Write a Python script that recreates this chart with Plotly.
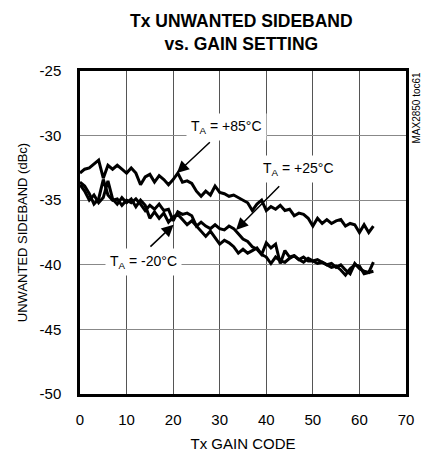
import plotly.graph_objects as go

gain_code = list(range(64))

t_plus85 = [-32.9, -32.6, -32.5, -32.2, -31.9, -33.3, -32.3, -32.6, -32.3, -32.6,
            -32.9, -32.5, -32.9, -33.8, -33.2, -33.0, -33.6, -33.1, -33.4, -33.8,
            -33.4, -32.9, -33.6, -33.5, -33.7, -34.3, -34.7, -34.3, -34.6, -33.9,
            -34.4, -34.5, -34.7, -34.6, -34.8, -35.0, -35.2, -35.8, -35.3, -35.0,
            -35.8, -35.5, -35.7, -35.4, -35.8, -35.7, -36.2, -36.0, -36.1, -36.4,
            -37.0, -36.4, -36.8, -36.5, -36.8, -36.6, -36.5, -37.0, -36.8, -36.9,
            -37.5, -36.9, -37.5, -37.0]

t_plus25 = [-33.6, -33.9, -34.5, -35.3, -34.9, -33.4, -34.6, -35.0, -34.9, -35.4,
            -35.0, -35.2, -34.9, -35.3, -35.8, -35.4, -35.7, -35.3, -35.8, -35.7,
            -36.6, -35.9, -36.1, -36.0, -36.2, -37.0, -36.7, -37.0, -37.2, -36.9,
            -37.2, -37.3, -37.0, -37.2, -37.6, -38.0, -38.2, -38.6, -38.8, -39.2,
            -38.3, -38.7, -38.4, -39.9, -38.9, -39.4, -39.3, -39.6, -39.4, -39.7,
            -39.7, -39.6, -39.8, -40.0, -39.9, -40.2, -40.0, -40.4, -40.7, -39.9,
            -40.3, -40.5, -40.6, -39.8]

t_minus20 = [-33.8, -34.3, -35.0, -34.6, -35.2, -34.8, -33.5, -34.9, -35.3, -34.8,
             -35.2, -34.9, -35.5, -35.0, -35.4, -36.4, -35.9, -36.4, -36.0, -36.7,
             -36.3, -36.1, -36.5, -36.9, -36.6, -37.0, -37.4, -37.8, -37.4, -37.9,
             -38.4, -38.1, -38.3, -38.6, -39.1, -38.8, -39.1, -38.9, -38.7, -39.2,
             -39.4, -39.9, -39.4, -39.7, -39.8, -39.5, -39.3, -39.6, -39.8, -39.5,
             -39.7, -39.9, -39.8, -40.0, -40.2, -40.1, -40.4, -40.8, -40.3, -40.0,
             -40.1, -40.7, -40.6, -40.5]

x_ticks = [0, 10, 20, 30, 40, 50, 60, 70]
y_ticks = [-50, -45, -40, -35, -30, -25]
y_tick_text = ["-50", "-45", "-40", "-35", "-30", "-25"]

FONT = "Liberation Sans, Arial, sans-serif"

fig = go.Figure()
for ys in (t_plus85, t_plus25, t_minus20):
    fig.add_trace(go.Scatter(x=gain_code, y=ys, mode="lines",
                             line=dict(color="black", width=3),
                             showlegend=False, hoverinfo="skip"))

# Labels (white boxes hide gridlines)
labels = [
    ("T<sub>A</sub> = +85°C", 31.4, -29.3),
    ("T<sub>A</sub> = +25°C", 47.0, -32.6),
    ("T<sub>A</sub> = -20°C", 13.7, -39.8),
]
for txt, lx, ly in labels:
    fig.add_annotation(x=lx, y=ly, xref="x", yref="y", text=txt, showarrow=False,
                       bgcolor="white", borderpad=4,
                       font=dict(family=FONT, size=14, color="black"))

arrows = [
    (20.8, -32.9, 28.2, -30.4),
    (33.5, -37.3, 43.1, -33.8),
    (20.1, -36.9, 14.8, -38.7),
]
for tx, ty, ax_, ay_ in arrows:
    fig.add_annotation(x=tx, y=ty, ax=ax_, ay=ay_, xref="x", yref="y",
                       axref="x", ayref="y", text="", showarrow=True,
                       arrowhead=2, arrowsize=1.6, arrowwidth=1.5,
                       arrowcolor="black", standoff=0, startstandoff=0)

fig.add_annotation(x=1.0, y=1.0, xref="paper", yref="paper", xanchor="left",
                   yanchor="top", xshift=2, yshift=1, text="MAX2850 toc61",
                   textangle=-90, showarrow=False,
                   font=dict(family=FONT, size=10, color="black"))

fig.add_annotation(x=0.494, y=1.118, xref="paper", yref="paper",
                   xanchor="center", yanchor="middle", showarrow=False,
                   text="<b>Tx UNWANTED SIDEBAND<br>vs. GAIN SETTING</b>",
                   font=dict(family=FONT, size=17.5, color="black"))

fig.update_layout(
    width=426, height=462,
    margin=dict(l=80, r=16, t=71, b=61),
    paper_bgcolor="white", plot_bgcolor="white",
    font=dict(family=FONT, size=15, color="black"),
)
fig.update_xaxes(range=[0, 70], tickvals=x_ticks, showgrid=True,
                 gridcolor="#555555", gridwidth=1, zeroline=False,
                 showline=True, linecolor="black", linewidth=2.5, mirror=True,
                 ticks="", ticklabelstandoff=10,
                 tickfont=dict(family=FONT, size=15),
                 title=dict(text="Tx GAIN CODE", standoff=12,
                            font=dict(family=FONT, size=15)))
fig.update_yaxes(range=[-50, -25], tickvals=y_ticks, ticktext=y_tick_text,
                 showgrid=True, gridcolor="#888888", gridwidth=1, zeroline=False,
                 showline=True, linecolor="black", linewidth=2.5, mirror=True,
                 ticks="", ticklabelstandoff=13,
                 tickfont=dict(family=FONT, size=15),
                 title=dict(text="UNWANTED SIDEBAND (dBc)", standoff=10,
                            font=dict(family=FONT, size=13)))

fig.write_html("out.html", config={"displayModeBar": False},
               post_script="document.body.style.margin='0px';")
